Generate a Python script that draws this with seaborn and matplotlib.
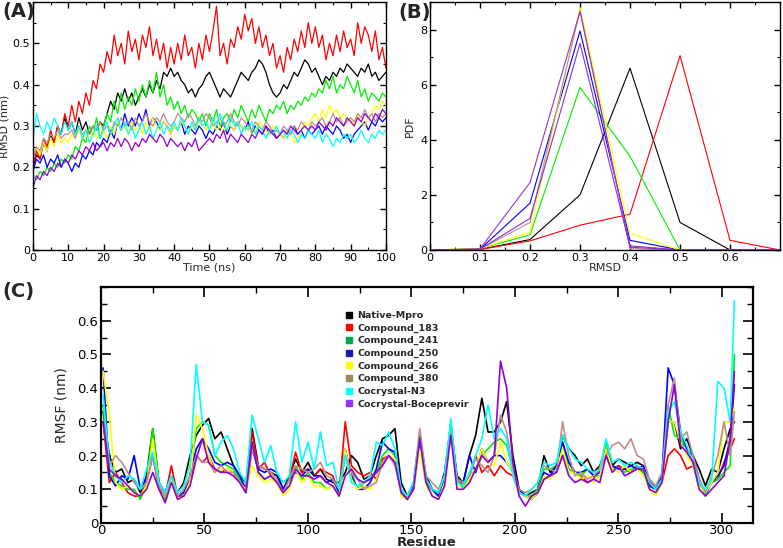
import matplotlib
matplotlib.use("Agg")
import matplotlib.pyplot as plt
from matplotlib import font_manager
from matplotlib.lines import Line2D
from matplotlib.ticker import MultipleLocator, FuncFormatter
import seaborn as sns
import pandas as pd

# ---- data ----
names = ["Native-Mpro", "Compound_183", "Compound_241", "Compound_250",
         "Compound_266", "Compound_380", "Cocrystal-N3", "Cocrystal-Boceprevir"]
line_colors = ["black", "red", "#00ee00", "blue", "#ffff00", "#bc8f8f", "cyan", "#9400d3"]
legend_colors = ["black", "red", "#00a550", "#1a1ab0", "#ffff00", "#9c8c5c", "cyan", "#9b30ff"]

time_ns = list(range(0, 101))

rmsd_native = [0.20,0.23,0.22,0.26,0.24,0.28,0.26,0.30,0.28,0.32,
               0.29,0.31,0.28,0.32,0.29,0.31,0.28,0.30,0.29,0.31,
               0.30,0.33,0.36,0.34,0.38,0.36,0.39,0.36,0.38,0.35,
               0.37,0.39,0.37,0.40,0.38,0.41,0.39,0.43,0.42,0.44,
               0.42,0.43,0.41,0.40,0.38,0.39,0.37,0.39,0.40,0.42,
               0.43,0.41,0.39,0.37,0.39,0.38,0.37,0.39,0.41,0.43,
               0.42,0.41,0.43,0.44,0.46,0.45,0.43,0.40,0.38,0.37,
               0.38,0.40,0.39,0.41,0.43,0.42,0.44,0.46,0.45,0.43,
               0.44,0.42,0.40,0.42,0.41,0.43,0.42,0.44,0.43,0.45,
               0.44,0.43,0.42,0.44,0.43,0.45,0.42,0.43,0.41,0.42,0.43]
rmsd_183 = [0.20,0.24,0.22,0.27,0.25,0.29,0.26,0.30,0.28,0.33,
            0.30,0.35,0.31,0.36,0.33,0.38,0.35,0.41,0.39,0.45,
            0.43,0.48,0.45,0.52,0.47,0.50,0.45,0.53,0.48,0.51,
            0.46,0.52,0.49,0.54,0.47,0.51,0.46,0.50,0.44,0.49,
            0.45,0.50,0.46,0.52,0.47,0.49,0.44,0.50,0.46,0.52,
            0.48,0.53,0.59,0.47,0.50,0.45,0.51,0.49,0.54,0.51,
            0.57,0.53,0.56,0.50,0.54,0.49,0.52,0.47,0.50,0.44,
            0.47,0.43,0.49,0.46,0.51,0.48,0.53,0.49,0.55,0.50,
            0.54,0.49,0.52,0.46,0.50,0.47,0.52,0.48,0.53,0.49,
            0.51,0.47,0.55,0.50,0.54,0.52,0.48,0.53,0.46,0.49,0.44]
rmsd_241 = [0.18,0.17,0.19,0.18,0.20,0.19,0.21,0.20,0.22,0.21,
            0.23,0.22,0.25,0.24,0.27,0.26,0.30,0.28,0.32,0.27,
            0.30,0.33,0.31,0.36,0.33,0.38,0.34,0.37,0.35,0.39,
            0.36,0.40,0.37,0.41,0.38,0.43,0.37,0.40,0.35,0.37,
            0.34,0.36,0.33,0.35,0.32,0.34,0.33,0.31,0.33,0.30,
            0.33,0.31,0.34,0.30,0.32,0.33,0.31,0.34,0.32,0.35,
            0.33,0.31,0.34,0.32,0.35,0.33,0.31,0.34,0.33,0.35,
            0.34,0.36,0.33,0.35,0.34,0.36,0.35,0.37,0.36,0.38,
            0.37,0.39,0.38,0.41,0.39,0.42,0.38,0.40,0.39,0.42,
            0.40,0.38,0.41,0.37,0.39,0.36,0.38,0.37,0.36,0.38,0.37]
rmsd_250 = [0.19,0.22,0.21,0.23,0.20,0.22,0.21,0.23,0.20,0.22,
            0.21,0.19,0.21,0.20,0.23,0.22,0.24,0.23,0.26,0.25,
            0.27,0.26,0.29,0.27,0.31,0.29,0.33,0.30,0.32,0.30,
            0.33,0.31,0.34,0.30,0.32,0.31,0.29,0.31,0.30,0.28,
            0.30,0.29,0.31,0.28,0.30,0.29,0.28,0.30,0.29,0.27,
            0.29,0.28,0.30,0.29,0.31,0.28,0.30,0.29,0.31,0.30,
            0.29,0.31,0.28,0.30,0.29,0.28,0.30,0.28,0.29,0.27,
            0.28,0.27,0.29,0.28,0.30,0.28,0.29,0.27,0.29,0.28,
            0.29,0.30,0.28,0.30,0.29,0.28,0.30,0.29,0.27,0.28,
            0.26,0.28,0.29,0.30,0.31,0.29,0.31,0.30,0.32,0.31,0.32]
rmsd_266 = [0.22,0.25,0.23,0.26,0.24,0.27,0.25,0.28,0.26,0.27,
            0.26,0.28,0.27,0.29,0.27,0.28,0.26,0.29,0.27,0.28,
            0.29,0.27,0.30,0.28,0.31,0.29,0.30,0.28,0.31,0.29,
            0.30,0.28,0.31,0.29,0.32,0.30,0.29,0.31,0.30,0.28,
            0.30,0.29,0.31,0.30,0.28,0.30,0.29,0.31,0.30,0.29,
            0.30,0.31,0.29,0.30,0.28,0.31,0.30,0.29,0.31,0.30,
            0.29,0.30,0.28,0.29,0.31,0.30,0.29,0.28,0.30,0.29,
            0.28,0.27,0.29,0.28,0.26,0.27,0.29,0.31,0.30,0.32,
            0.33,0.31,0.34,0.32,0.35,0.33,0.34,0.32,0.33,0.31,
            0.32,0.30,0.33,0.31,0.30,0.32,0.33,0.35,0.34,0.36,0.35]
rmsd_380 = [0.22,0.25,0.24,0.27,0.26,0.28,0.27,0.29,0.27,0.28,
            0.28,0.29,0.27,0.30,0.28,0.29,0.28,0.30,0.29,0.31,
            0.29,0.30,0.28,0.31,0.30,0.32,0.30,0.31,0.29,0.32,
            0.30,0.31,0.33,0.31,0.30,0.32,0.31,0.33,0.31,0.30,
            0.31,0.33,0.32,0.31,0.33,0.32,0.30,0.32,0.31,0.33,
            0.32,0.30,0.31,0.32,0.30,0.31,0.33,0.31,0.30,0.32,
            0.31,0.30,0.29,0.31,0.30,0.29,0.31,0.30,0.28,0.29,
            0.28,0.30,0.29,0.28,0.30,0.29,0.31,0.30,0.29,0.31,
            0.30,0.31,0.32,0.30,0.31,0.33,0.31,0.32,0.30,0.31,
            0.32,0.31,0.33,0.32,0.34,0.32,0.33,0.31,0.33,0.32,0.33]
rmsd_n3 = [0.27,0.33,0.30,0.28,0.31,0.29,0.32,0.30,0.28,0.31,
           0.29,0.31,0.28,0.30,0.27,0.29,0.26,0.28,0.30,0.27,
           0.29,0.31,0.28,0.30,0.32,0.29,0.31,0.28,0.30,0.27,
           0.29,0.31,0.28,0.30,0.27,0.29,0.31,0.28,0.30,0.29,
           0.31,0.29,0.32,0.30,0.28,0.31,0.29,0.32,0.30,0.31,
           0.29,0.32,0.30,0.33,0.31,0.29,0.32,0.30,0.31,0.28,
           0.30,0.29,0.31,0.28,0.30,0.29,0.27,0.29,0.28,0.30,
           0.28,0.29,0.27,0.29,0.28,0.26,0.28,0.27,0.29,0.28,
           0.27,0.29,0.26,0.28,0.27,0.25,0.27,0.26,0.28,0.27,
           0.28,0.26,0.27,0.29,0.27,0.26,0.28,0.27,0.29,0.28,0.29]
rmsd_boc = [0.15,0.18,0.17,0.19,0.18,0.20,0.19,0.21,0.20,0.22,
            0.21,0.23,0.22,0.24,0.23,0.25,0.24,0.26,0.24,0.25,
            0.26,0.24,0.26,0.25,0.27,0.25,0.27,0.26,0.24,0.26,
            0.25,0.27,0.26,0.28,0.27,0.26,0.28,0.27,0.25,0.27,
            0.26,0.25,0.26,0.24,0.26,0.25,0.27,0.24,0.25,0.26,
            0.27,0.26,0.28,0.27,0.29,0.26,0.28,0.27,0.26,0.28,
            0.27,0.26,0.28,0.27,0.29,0.28,0.30,0.29,0.28,0.27,
            0.28,0.29,0.28,0.30,0.29,0.28,0.29,0.30,0.29,0.30,
            0.29,0.31,0.30,0.29,0.31,0.30,0.32,0.31,0.30,0.32,
            0.31,0.30,0.32,0.31,0.33,0.32,0.31,0.33,0.32,0.34,0.33]

# PDF of RMSD (panel B)
pdf_bins = [0.0, 0.1, 0.2, 0.3, 0.4, 0.5, 0.6, 0.7]
pdf_native = [0, 0.02, 0.38, 2.0, 6.6, 1.0, 0, 0]
pdf_183 = [0, 0.02, 0.33, 0.9, 1.3, 7.05, 0.35, 0]
pdf_241 = [0, 0.05, 0.55, 5.9, 3.4, 0, 0, 0]
pdf_250 = [0, 0.03, 1.7, 7.95, 0.35, 0, 0, 0]
pdf_266 = [0, 0.05, 0.65, 8.8, 0.6, 0, 0, 0]
pdf_380 = [0, 0.03, 1.0, 8.7, 0.05, 0, 0, 0]
pdf_n3 = [0, 0.03, 1.15, 7.5, 0.1, 0, 0, 0]
pdf_boc = [0, 0.04, 2.45, 8.65, 0.15, 0, 0, 0]
pdf_colors = ["black", "red", "#00ee00", "blue", "#ffff00", "#bc8f8f", "#8a2be2", "#9932cc"]

# RMSF per residue (panel C), sampled every 3 residues
residue = list(range(1, 305, 3)) + [306]
rmsf_native = [0.33,0.2,0.15,0.16,0.12,0.13,0.09,0.14,0.28,0.12,
               0.08,0.13,0.09,0.12,0.2,0.26,0.29,0.31,0.25,0.27,
               0.22,0.17,0.14,0.12,0.28,0.17,0.16,0.15,0.14,0.1,
               0.14,0.19,0.15,0.18,0.14,0.16,0.13,0.12,0.12,0.15,
               0.2,0.18,0.13,0.14,0.2,0.25,0.26,0.28,0.12,0.08,
               0.12,0.26,0.14,0.1,0.09,0.15,0.29,0.14,0.12,0.2,
               0.26,0.37,0.27,0.27,0.3,0.36,0.2,0.1,0.08,0.09,
               0.1,0.2,0.15,0.17,0.26,0.22,0.2,0.17,0.19,0.15,
               0.17,0.22,0.17,0.19,0.18,0.17,0.18,0.17,0.12,0.1,
               0.14,0.3,0.3,0.22,0.25,0.2,0.16,0.11,0.16,0.15,
               0.22,0.28,0.3]
rmsf_183 = [0.3,0.12,0.15,0.12,0.09,0.08,0.08,0.12,0.2,0.1,
            0.08,0.17,0.08,0.08,0.12,0.2,0.18,0.2,0.16,0.15,
            0.16,0.15,0.13,0.1,0.27,0.16,0.18,0.14,0.12,0.1,
            0.13,0.21,0.15,0.16,0.14,0.16,0.15,0.14,0.09,0.3,
            0.17,0.15,0.14,0.15,0.13,0.19,0.2,0.18,0.09,0.07,
            0.1,0.23,0.12,0.1,0.08,0.14,0.29,0.13,0.11,0.14,
            0.2,0.15,0.17,0.14,0.17,0.15,0.14,0.09,0.08,0.07,
            0.09,0.13,0.14,0.15,0.2,0.18,0.15,0.14,0.12,0.13,
            0.17,0.2,0.16,0.17,0.16,0.15,0.17,0.15,0.13,0.1,
            0.12,0.2,0.22,0.2,0.16,0.17,0.11,0.1,0.12,0.13,
            0.18,0.22,0.25]
rmsf_241 = [0.35,0.15,0.12,0.11,0.1,0.1,0.07,0.12,0.28,0.12,
            0.07,0.13,0.08,0.09,0.14,0.28,0.3,0.29,0.2,0.18,
            0.17,0.16,0.13,0.09,0.24,0.15,0.13,0.14,0.12,0.1,
            0.11,0.17,0.13,0.15,0.12,0.12,0.1,0.11,0.08,0.2,
            0.15,0.1,0.12,0.13,0.15,0.2,0.22,0.2,0.09,0.08,
            0.11,0.25,0.13,0.1,0.08,0.13,0.3,0.13,0.1,0.15,
            0.15,0.2,0.22,0.24,0.25,0.23,0.16,0.09,0.08,0.08,
            0.1,0.16,0.16,0.17,0.24,0.16,0.15,0.14,0.16,0.14,
            0.14,0.24,0.16,0.17,0.15,0.16,0.16,0.15,0.11,0.1,
            0.13,0.35,0.26,0.25,0.22,0.18,0.12,0.08,0.12,0.13,
            0.15,0.17,0.5]
rmsf_250 = [0.46,0.14,0.11,0.14,0.13,0.2,0.1,0.13,0.2,0.12,
            0.09,0.14,0.08,0.09,0.14,0.22,0.25,0.22,0.18,0.17,
            0.18,0.17,0.14,0.1,0.22,0.16,0.15,0.16,0.15,0.1,
            0.13,0.15,0.14,0.16,0.14,0.14,0.12,0.13,0.09,0.22,
            0.14,0.1,0.1,0.12,0.16,0.24,0.22,0.21,0.1,0.08,
            0.11,0.24,0.13,0.1,0.08,0.13,0.28,0.13,0.12,0.2,
            0.15,0.22,0.18,0.2,0.2,0.18,0.15,0.1,0.08,0.07,
            0.09,0.15,0.14,0.17,0.24,0.18,0.15,0.15,0.16,0.14,
            0.15,0.22,0.17,0.16,0.16,0.17,0.16,0.17,0.11,0.1,
            0.14,0.46,0.41,0.27,0.22,0.2,0.13,0.09,0.12,0.14,
            0.17,0.25,0.41]
rmsf_266 = [0.45,0.32,0.12,0.1,0.11,0.09,0.08,0.11,0.25,0.11,
            0.08,0.13,0.07,0.08,0.12,0.32,0.28,0.2,0.15,0.16,
            0.16,0.15,0.12,0.1,0.17,0.14,0.12,0.13,0.12,0.08,
            0.1,0.16,0.12,0.14,0.11,0.11,0.1,0.11,0.08,0.22,
            0.13,0.1,0.11,0.1,0.13,0.18,0.2,0.19,0.08,0.07,
            0.1,0.22,0.11,0.08,0.07,0.12,0.27,0.11,0.1,0.13,
            0.16,0.22,0.18,0.17,0.24,0.18,0.15,0.09,0.08,0.07,
            0.09,0.14,0.13,0.15,0.22,0.15,0.15,0.13,0.14,0.12,
            0.14,0.22,0.16,0.15,0.17,0.15,0.16,0.14,0.1,0.08,
            0.12,0.3,0.3,0.24,0.2,0.17,0.11,0.09,0.12,0.15,
            0.3,0.3,0.34]
rmsf_380 = [0.3,0.17,0.2,0.18,0.15,0.12,0.1,0.12,0.2,0.11,
            0.08,0.14,0.08,0.1,0.14,0.2,0.18,0.18,0.15,0.17,
            0.15,0.15,0.12,0.09,0.22,0.17,0.16,0.15,0.13,0.09,
            0.13,0.17,0.16,0.15,0.16,0.18,0.14,0.13,0.1,0.2,
            0.15,0.13,0.1,0.11,0.12,0.18,0.2,0.17,0.1,0.08,
            0.12,0.28,0.14,0.12,0.1,0.14,0.28,0.13,0.12,0.14,
            0.19,0.17,0.15,0.2,0.32,0.27,0.16,0.1,0.09,0.1,
            0.12,0.17,0.16,0.15,0.3,0.2,0.14,0.15,0.13,0.14,
            0.16,0.2,0.23,0.24,0.22,0.25,0.2,0.19,0.13,0.11,
            0.15,0.35,0.43,0.25,0.27,0.2,0.13,0.09,0.14,0.2,
            0.3,0.2,0.33]
rmsf_n3 = [0.38,0.18,0.14,0.12,0.14,0.13,0.1,0.16,0.21,0.12,
           0.09,0.14,0.09,0.11,0.17,0.47,0.3,0.29,0.2,0.24,
           0.26,0.22,0.15,0.12,0.32,0.25,0.18,0.23,0.15,0.12,
           0.14,0.3,0.18,0.24,0.16,0.27,0.17,0.18,0.1,0.2,
           0.12,0.11,0.12,0.14,0.24,0.23,0.27,0.22,0.1,0.08,
           0.12,0.25,0.13,0.1,0.09,0.14,0.31,0.12,0.11,0.15,
           0.2,0.25,0.35,0.25,0.28,0.25,0.14,0.09,0.08,0.1,
           0.12,0.18,0.17,0.18,0.26,0.22,0.19,0.18,0.16,0.15,
           0.16,0.25,0.18,0.19,0.17,0.18,0.17,0.16,0.12,0.1,
           0.13,0.33,0.36,0.27,0.23,0.18,0.12,0.1,0.13,0.42,
           0.4,0.3,0.66]
rmsf_boc = [0.3,0.16,0.14,0.13,0.11,0.09,0.08,0.1,0.15,0.1,
            0.06,0.12,0.07,0.08,0.11,0.19,0.25,0.18,0.16,0.15,
            0.15,0.14,0.12,0.09,0.24,0.15,0.13,0.14,0.12,0.09,
            0.11,0.16,0.14,0.14,0.13,0.14,0.12,0.11,0.08,0.14,
            0.16,0.13,0.12,0.13,0.15,0.17,0.2,0.18,0.09,0.07,
            0.1,0.25,0.12,0.08,0.07,0.11,0.26,0.1,0.1,0.12,
            0.16,0.2,0.18,0.2,0.48,0.4,0.18,0.08,0.05,0.08,
            0.09,0.13,0.14,0.15,0.2,0.14,0.12,0.13,0.12,0.13,
            0.12,0.2,0.15,0.17,0.14,0.15,0.16,0.16,0.1,0.09,
            0.12,0.3,0.41,0.23,0.21,0.18,0.1,0.08,0.1,0.12,
            0.14,0.25,0.45]

rmsd_all = [rmsd_native, rmsd_183, rmsd_241, rmsd_250, rmsd_266, rmsd_380, rmsd_n3, rmsd_boc]
pdf_all = [pdf_native, pdf_183, pdf_241, pdf_250, pdf_266, pdf_380, pdf_n3, pdf_boc]
rmsf_all = [rmsf_native, rmsf_183, rmsf_241, rmsf_250, rmsf_266, rmsf_380, rmsf_n3, rmsf_boc]


def long_df(x, series, xname, yname):
    parts = []
    for n, ys in zip(names, series):
        parts.append(pd.DataFrame({xname: x, yname: ys, "system": n}))
    return pd.concat(parts, ignore_index=True)


df_a = long_df(time_ns, rmsd_all, "time", "rmsd")
df_b = long_df(pdf_bins, pdf_all, "bin", "pdf")
df_c = long_df(residue, rmsf_all, "residue", "rmsf")

sns.set_style("ticks")
has_narrow = any(f.name == "Liberation Sans Narrow" for f in font_manager.fontManager.ttflist)
narrow = "Liberation Sans Narrow" if has_narrow else "DejaVu Sans"
plt.rcParams["font.family"] = ["DejaVu Sans"]

fig = plt.figure(figsize=(7.83, 5.48), dpi=100)
ax_a = fig.add_axes([0.0421, 0.5438, 0.4508, 0.4526])
ax_b = fig.add_axes([0.5492, 0.5438, 0.4470, 0.4526])
ax_c = fig.add_axes([0.1290, 0.0456, 0.8327, 0.4307])

zero_fmt = FuncFormatter(lambda v, p: "0" if abs(v) < 1e-9 else f"{v:g}")


def frame(ax, lw=1.0):
    for s in ax.spines.values():
        s.set_linewidth(lw)
        s.set_color("black")
    ax.tick_params(which="both", direction="in", top=True, right=True, colors="black")
    ax.tick_params(which="major", length=4, width=1)
    ax.tick_params(which="minor", length=2, width=0.8)


# ---- panel A ----
sns.lineplot(data=df_a, x="time", y="rmsd", hue="system", palette=dict(zip(names, line_colors)),
             linewidth=0.9, legend=False, sort=False, ax=ax_a)
ax_a.set_xlim(0, 100)
ax_a.set_ylim(0, 0.6)
ax_a.set_xticks(range(0, 101, 10))
ax_a.set_yticks([0, 0.1, 0.2, 0.3, 0.4, 0.5])
ax_a.xaxis.set_minor_locator(MultipleLocator(5))
ax_a.yaxis.set_minor_locator(MultipleLocator(0.05))
ax_a.yaxis.set_major_formatter(zero_fmt)
frame(ax_a)
ax_a.tick_params(labelsize=8, pad=2)
ax_a.set_xlabel("Time (ns)", family=narrow, fontsize=8, labelpad=0)
ax_a.set_ylabel("RMSD (nm)", family=narrow, fontsize=8, labelpad=2)
for t in ax_a.get_xticklabels() + ax_a.get_yticklabels():
    t.set_family(narrow)

# ---- panel B ----
sns.lineplot(data=df_b, x="bin", y="pdf", hue="system", palette=dict(zip(names, pdf_colors)),
             linewidth=0.8, legend=False, sort=False, ax=ax_b)
ax_b.set_xlim(0, 0.7)
ax_b.set_ylim(0, 9)
ax_b.set_xticks([0, 0.1, 0.2, 0.3, 0.4, 0.5, 0.6])
ax_b.set_yticks([0, 2, 4, 6, 8])
ax_b.xaxis.set_minor_locator(MultipleLocator(0.05))
ax_b.yaxis.set_minor_locator(MultipleLocator(1))
ax_b.xaxis.set_major_formatter(zero_fmt)
frame(ax_b)
ax_b.tick_params(labelsize=8, pad=2)
ax_b.set_xlabel("RMSD", family=narrow, fontsize=8, labelpad=0)
ax_b.set_ylabel("PDF", family=narrow, fontsize=8, labelpad=4)
for t in ax_b.get_xticklabels() + ax_b.get_yticklabels():
    t.set_family(narrow)

# ---- panel C ----
sns.lineplot(data=df_c, x="residue", y="rmsf", hue="system", palette=dict(zip(names, line_colors)),
             linewidth=1.2, legend=False, sort=False, ax=ax_c)
ax_c.set_xlim(0, 315)
ax_c.set_ylim(0, 0.7)
ax_c.set_xticks([0, 50, 100, 150, 200, 250, 300])
ax_c.set_yticks([0, 0.1, 0.2, 0.3, 0.4, 0.5, 0.6])
ax_c.xaxis.set_minor_locator(MultipleLocator(25))
ax_c.yaxis.set_minor_locator(MultipleLocator(0.05))
ax_c.yaxis.set_major_formatter(zero_fmt)
frame(ax_c, lw=1.6)
ax_c.tick_params(which="major", length=7, width=1.2, labelsize=9.5, pad=2)
ax_c.tick_params(which="minor", length=4, width=1.0)
ax_c.tick_params(axis="x", pad=1)
ax_c.set_xlabel("Residue", fontsize=9.5, fontweight="bold", labelpad=-1)
ax_c.set_ylabel("RMSF (nm)", family=narrow, fontsize=10, labelpad=6)

handles = [Line2D([], [], marker="s", linestyle="", color=c, markersize=5) for c in legend_colors]
ax_c.legend(handles, names, loc="upper left", bbox_to_anchor=(0.368, 0.915), frameon=False,
            prop={"size": 6.8, "weight": "bold"}, handletextpad=0.3, labelspacing=0.38,
            handlelength=1.0, borderaxespad=0)

# panel letters
fig.text(0.003, 0.997, "(A)", fontsize=14, fontweight="bold", va="top")
fig.text(0.509, 0.995, "(B)", fontsize=14, fontweight="bold", va="top")
fig.text(0.003, 0.485, "(C)", fontsize=14, fontweight="bold", va="top")

fig.savefig("out.png", dpi=100, facecolor="white")
